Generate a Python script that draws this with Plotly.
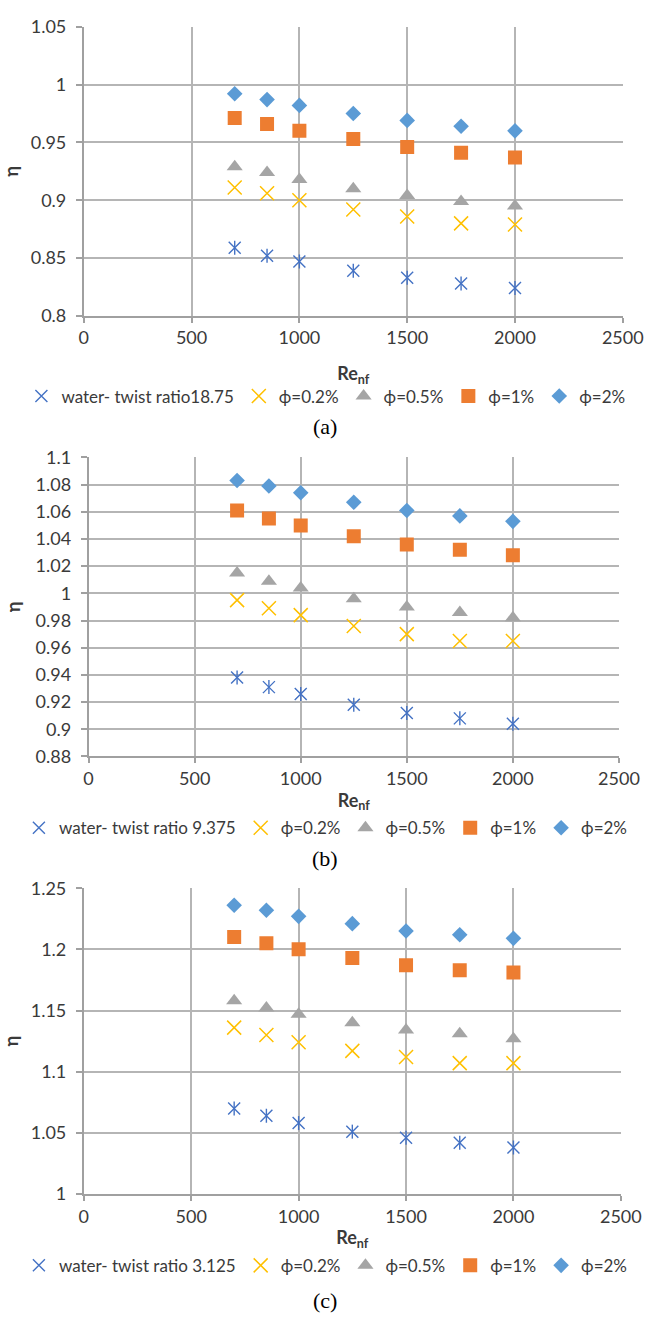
import plotly.graph_objects as go

# Reynolds numbers of the nanofluid (shared by all three panels)
re_nf = [700, 850, 1000, 1250, 1500, 1750, 2000]

# Thermal performance factor, twist ratio 18.75
a_water = [0.859, 0.852, 0.847, 0.839, 0.833, 0.828, 0.824]
a_phi02 = [0.911, 0.906, 0.900, 0.892, 0.886, 0.880, 0.879]
a_phi05 = [0.929, 0.924, 0.918, 0.910, 0.904, 0.899, 0.895]
a_phi1 = [0.971, 0.966, 0.960, 0.953, 0.946, 0.941, 0.937]
a_phi2 = [0.992, 0.987, 0.982, 0.975, 0.969, 0.964, 0.960]

# Thermal performance factor, twist ratio 9.375
b_water = [0.938, 0.931, 0.926, 0.918, 0.912, 0.908, 0.904]
b_phi02 = [0.995, 0.989, 0.984, 0.976, 0.970, 0.965, 0.965]
b_phi05 = [1.015, 1.009, 1.004, 0.996, 0.990, 0.986, 0.982]
b_phi1 = [1.061, 1.055, 1.050, 1.042, 1.036, 1.032, 1.028]
b_phi2 = [1.083, 1.079, 1.074, 1.067, 1.061, 1.057, 1.053]

# Thermal performance factor, twist ratio 3.125
c_water = [1.070, 1.064, 1.058, 1.051, 1.046, 1.042, 1.038]
c_phi02 = [1.136, 1.130, 1.124, 1.117, 1.112, 1.107, 1.107]
c_phi05 = [1.158, 1.152, 1.147, 1.140, 1.134, 1.131, 1.127]
c_phi1 = [1.210, 1.205, 1.200, 1.193, 1.187, 1.183, 1.181]
c_phi2 = [1.236, 1.232, 1.227, 1.221, 1.215, 1.212, 1.209]

water_names = ["water- twist ratio18.75", "water- twist ratio 9.375", "water- twist ratio 3.125"]
phi_names = ["ϕ=0.2%", "ϕ=0.5%", "ϕ=1%", "ϕ=2%"]
panel_tags = ["(a)", "(b)", "(c)"]

W, H = 663, 1324
FONT = "Lato, 'Open Sans', sans-serif"
TXT = "#3a3a3a"
GRID = "#B5B5B5"
AXLINE = "#A0A0A0"

C_WATER = "#4472C4"
C_PHI02 = "#FFC000"
C_PHI05 = "#A5A5A5"
C_PHI1 = "#ED7D31"
C_PHI2 = "#5B9BD5"

# pixel boxes of each plotting area: (left, right, top, bottom)
boxes = [(82, 643, 15, 309), (87, 639, 453, 757), (82, 641, 891, 1202)]
yranges = [(0.8, 1.05, 0.05), (0.88, 1.1, 0.02), (1.0, 1.25, 0.05)]
legend_y = [391, 830, 1275]
tag_y = [421, 861, 1310]
title_standoff = [20, 6, 6]

panels = [
    (a_water, a_phi02, a_phi05, a_phi1, a_phi2),
    (b_water, b_phi02, b_phi05, b_phi1, b_phi2),
    (c_water, c_phi02, c_phi05, c_phi1, c_phi2),
]

fig = go.Figure()
layout = dict(
    width=W, height=H,
    margin=dict(l=0, r=0, t=0, b=0),
    paper_bgcolor="white", plot_bgcolor="white",
    font=dict(family=FONT, size=17, color=TXT),
    annotations=[],
)

for i, (water, p02, p05, p1, p2) in enumerate(panels):
    n = "" if i == 0 else str(i + 1)
    xa, ya = "x" + n, "y" + n
    leg = "legend" + n
    l, r, t, b = boxes[i]
    y0, y1, dy = yranges[i]

    # water: a thin x overlaid with a vertical bar gives the star marker
    fig.add_trace(go.Scatter(
        x=re_nf, y=water, mode="markers", name=water_names[i],
        xaxis=xa, yaxis=ya, legend=leg, legendgroup="w" + n,
        marker=dict(symbol="x-thin-open", size=12, color=C_WATER,
                    line=dict(width=1.4, color=C_WATER)),
    ))
    fig.add_trace(go.Scatter(
        x=re_nf, y=water, mode="markers", showlegend=False,
        xaxis=xa, yaxis=ya, legend=leg, legendgroup="w" + n,
        marker=dict(symbol="line-ns-open", size=10, color=C_WATER,
                    line=dict(width=1.4, color=C_WATER)),
    ))
    fig.add_trace(go.Scatter(
        x=re_nf, y=p02, mode="markers", name=phi_names[0],
        xaxis=xa, yaxis=ya, legend=leg,
        marker=dict(symbol="x-thin-open", size=14, color=C_PHI02,
                    line=dict(width=1.5, color=C_PHI02)),
    ))
    fig.add_trace(go.Scatter(
        x=re_nf, y=p05, mode="markers", name=phi_names[1],
        xaxis=xa, yaxis=ya, legend=leg,
        marker=dict(symbol="triangle-up", size=14, color=C_PHI05, line=dict(width=0)),
    ))
    fig.add_trace(go.Scatter(
        x=re_nf, y=p1, mode="markers", name=phi_names[2],
        xaxis=xa, yaxis=ya, legend=leg,
        marker=dict(symbol="square", size=14, color=C_PHI1, line=dict(width=0)),
    ))
    fig.add_trace(go.Scatter(
        x=re_nf, y=p2, mode="markers", name=phi_names[3],
        xaxis=xa, yaxis=ya, legend=leg,
        marker=dict(symbol="diamond", size=12, color=C_PHI2, line=dict(width=0)),
    ))

    layout["xaxis" + n] = dict(
        domain=[l / W, r / W], anchor=ya, range=[0, 2500], tick0=0, dtick=500,
        showgrid=True, gridcolor=GRID, gridwidth=1.5,
        showline=True, linecolor=AXLINE, linewidth=1.8,
        ticks="outside", ticklen=5, tickcolor=AXLINE, tickwidth=1.5,
        zeroline=False, tickfont=dict(size=18, color=TXT),
        title=dict(text="Re<sub>nf</sub>", standoff=title_standoff[i],
                   font=dict(size=18, color=TXT, weight="bold")),
    )
    layout["yaxis" + n] = dict(
        domain=[1 - b / H, 1 - t / H], anchor=xa, range=[y0, y1], tick0=y0, dtick=dy,
        showgrid=True, gridcolor=GRID, gridwidth=1.5,
        showline=True, linecolor=AXLINE, linewidth=1.8,
        ticks="outside", ticklen=6, tickcolor=AXLINE, tickwidth=1.5,
        ticklabelstandoff=6,
        zeroline=False, tickfont=dict(size=18, color=TXT),
        title=dict(text="η", standoff=10, font=dict(size=18, color=TXT, weight="bold")),
    )
    layout[leg] = dict(
        orientation="h", x=334 / W, xanchor="center",
        y=1 - legend_y[i] / H, yanchor="middle",
        font=dict(size=17, color=TXT), bgcolor="rgba(0,0,0,0)",
        itemwidth=30, tracegroupgap=0,
    )
    layout["annotations"].append(dict(
        text=panel_tags[i], xref="paper", yref="paper",
        x=333 / W, y=1 - tag_y[i] / H, xanchor="center", yanchor="middle",
        showarrow=False, font=dict(family="Liberation Serif, serif", size=22, color="#000000"),
    ))

fig.update_layout(**layout)
fig.write_html("out.html")
